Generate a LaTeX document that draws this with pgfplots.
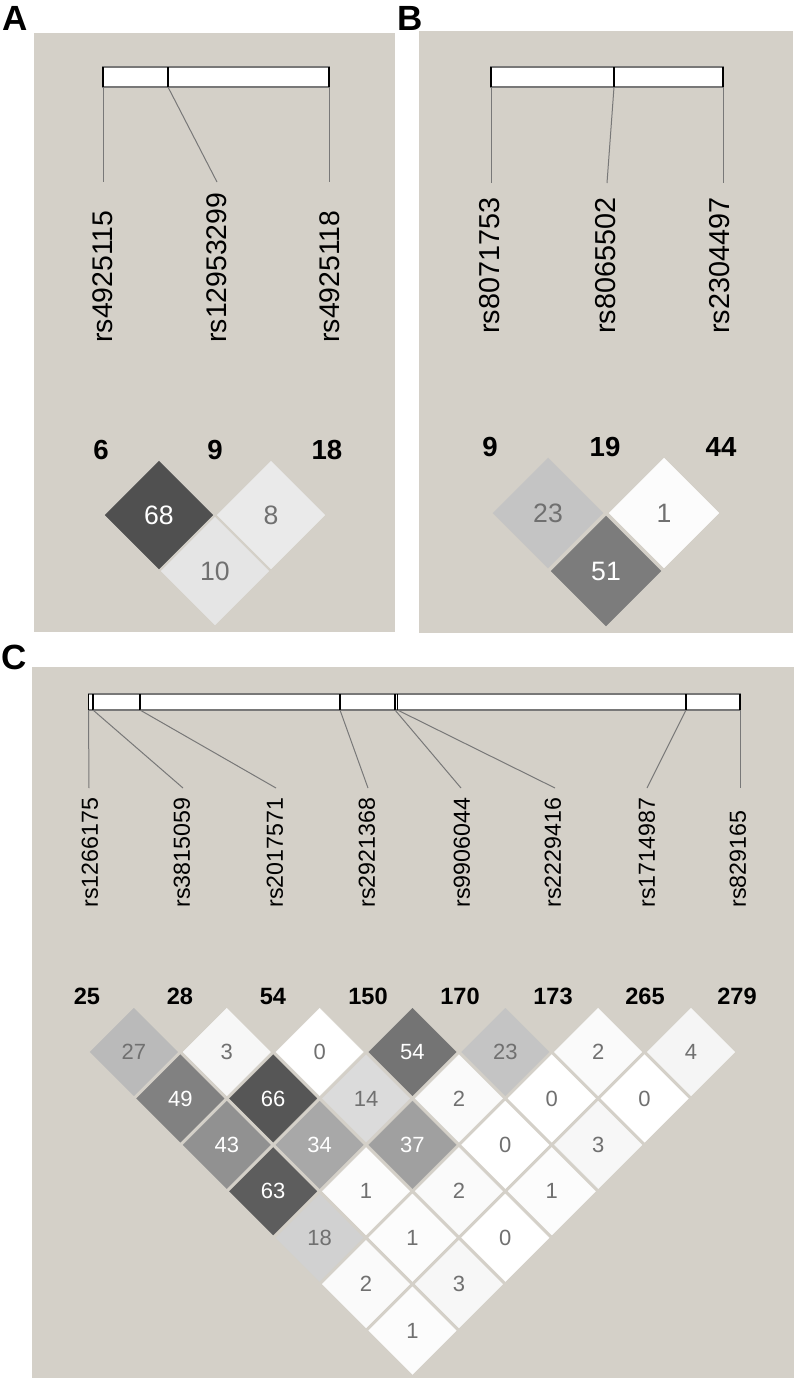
\documentclass[border=0pt]{standalone}
\usepackage{fontspec}
\setmainfont{Liberation Sans}
\usepackage{pgfplots}
\usepackage{pgfplotstable}
\pgfplotsset{compat=1.18}
\definecolor{bg}{RGB}{212,208,200}
\definecolor{ln}{RGB}{120,120,120}
\definecolor{tg}{RGB}{112,112,112}

% LD values (r^2 x 100), diamond centres in picture pixel units
\pgfplotstableread{
x y v
159 515 68
271 515 8
215 571 10
}\ldA
\pgfplotstableread{
x y v
548 513 23
664 513 1
606 571 51
}\ldB
\pgfplotstableread{
x y v
133.93 1052 27
226.78 1052 3
319.63 1052 0
412.48 1052 54
505.33 1052 23
598.18 1052 2
691.03 1052 4
180.35 1098.43 49
273.2 1098.43 66
366.05 1098.43 14
458.9 1098.43 2
551.75 1098.43 0
644.6 1098.43 0
226.78 1144.85 43
319.63 1144.85 34
412.48 1144.85 37
505.33 1144.85 0
598.18 1144.85 3
273.2 1191.28 63
366.05 1191.28 1
458.9 1191.28 2
551.75 1191.28 1
319.63 1237.7 18
412.48 1237.7 1
505.33 1237.7 0
366.05 1284.13 2
458.9 1284.13 3
412.48 1330.55 1
}\ldC

\pgfplotsset{
  ldmarks/.style={scatter, only marks, mark=square*, mark size=#1,
    mark options={rotate=45, line width=0.1pt},
    scatter/use mapped color={draw=mapped color, fill=mapped color},
    point meta=\thisrow{v}},
  ldtext/.style 2 args={draw=none, nodes near coords, point meta=explicit symbolic,
    nodes near coords align=center,
    every node near coord/.append style={anchor=center, inner sep=0pt, font=#1, text=#2}},
}
\newcommand{\fA}{\fontsize{13.3}{15}\selectfont}
\newcommand{\fC}{\fontsize{11}{13}\selectfont}

\begin{document}
\begin{tikzpicture}
\begin{axis}[name=ax, scale only axis, width=398.5pt, height=691pt,
  xmin=0, xmax=797, ymin=0, ymax=1382, y dir=reverse, hide axis, clip=false,
  colormap={wb}{color=(white) color=(black)},
  point meta min=0, point meta max=100]

% panel backgrounds
\addplot[draw=none, fill=bg] coordinates {(34,33) (395,33) (395,632) (34,632)} -- cycle;
\addplot[draw=none, fill=bg] coordinates {(419,31) (793,31) (793,633) (419,633)} -- cycle;
\addplot[draw=none, fill=bg] coordinates {(32,667) (794,667) (794,1378) (32,1378)} -- cycle;

% ---------- Panel A ----------
\addplot[fill=white, draw=ln, line width=0.6pt] coordinates {(103,67) (329,67) (329,87) (103,87)} -- cycle;
\addplot[black, line width=1pt] coordinates {(103,67) (103,87)};
\addplot[black, line width=1pt] coordinates {(168,67) (168,87)};
\addplot[black, line width=1pt] coordinates {(329,67) (329,87)};
\addplot[ln, line width=0.5pt] coordinates {(103,87) (103,182)};
\addplot[ln, line width=0.5pt] coordinates {(168,87) (217,182)};
\addplot[ln, line width=0.5pt] coordinates {(329,87) (329,182)};
\node[rotate=90, anchor=west, inner sep=0pt, font=\fontsize{14.2}{16}\selectfont] at (axis cs:103,343) {rs4925115};
\node[rotate=90, anchor=west, inner sep=0pt, font=\fontsize{14.2}{16}\selectfont] at (axis cs:217,343) {rs12953299};
\node[rotate=90, anchor=west, inner sep=0pt, font=\fontsize{14.2}{16}\selectfont] at (axis cs:330,343) {rs4925118};
\node[inner sep=0pt, font=\fontsize{13.8}{16}\selectfont\bfseries] at (axis cs:101,450) {6};
\node[inner sep=0pt, font=\fontsize{13.8}{16}\selectfont\bfseries] at (axis cs:215,450) {9};
\node[inner sep=0pt, font=\fontsize{13.8}{16}\selectfont\bfseries] at (axis cs:327,450) {18};
\addplot[ldmarks=19.09pt] table[x=x, y=y] \ldA;
\addplot[ldtext={\fA}{white}, restrict expr to domain={\thisrow{v}}{30:1000}] table[x=x, y=y, meta=v] \ldA;
\addplot[ldtext={\fA}{tg}, restrict expr to domain={\thisrow{v}}{-1:29.5}] table[x=x, y=y, meta=v] \ldA;

% ---------- Panel B ----------
\addplot[fill=white, draw=ln, line width=0.6pt] coordinates {(491,67) (723,67) (723,87) (491,87)} -- cycle;
\addplot[black, line width=1pt] coordinates {(491,67) (491,87)};
\addplot[black, line width=1pt] coordinates {(614,67) (614,87)};
\addplot[black, line width=1pt] coordinates {(723,67) (723,87)};
\addplot[ln, line width=0.5pt] coordinates {(491,87) (491,183)};
\addplot[ln, line width=0.5pt] coordinates {(614,87) (607,183)};
\addplot[ln, line width=0.5pt] coordinates {(723,87) (723,183)};
\node[rotate=90, anchor=west, inner sep=0pt, font=\fontsize{14.4}{16}\selectfont] at (axis cs:490,334) {rs8071753};
\node[rotate=90, anchor=west, inner sep=0pt, font=\fontsize{14.4}{16}\selectfont] at (axis cs:606,334) {rs8065502};
\node[rotate=90, anchor=west, inner sep=0pt, font=\fontsize{14.4}{16}\selectfont] at (axis cs:720,334) {rs2304497};
\node[inner sep=0pt, font=\fontsize{13.8}{16}\selectfont\bfseries] at (axis cs:490,447) {9};
\node[inner sep=0pt, font=\fontsize{13.8}{16}\selectfont\bfseries] at (axis cs:605,447) {19};
\node[inner sep=0pt, font=\fontsize{13.8}{16}\selectfont\bfseries] at (axis cs:721,447) {44};
\addplot[ldmarks=19.45pt] table[x=x, y=y] \ldB;
\addplot[ldtext={\fA}{white}, restrict expr to domain={\thisrow{v}}{30:1000}] table[x=x, y=y, meta=v] \ldB;
\addplot[ldtext={\fA}{tg}, restrict expr to domain={\thisrow{v}}{-1:29.5}] table[x=x, y=y, meta=v] \ldB;

% ---------- Panel C ----------
\addplot[fill=white, draw=ln, line width=0.6pt] coordinates {(88.5,694) (740,694) (740,710) (88.5,710)} -- cycle;
\addplot[black, line width=0.9pt] coordinates {(88.5,694) (88.5,710)};
\addplot[black, line width=0.9pt] coordinates {(93,694) (93,710)};
\addplot[black, line width=0.9pt] coordinates {(140,694) (140,710)};
\addplot[black, line width=0.9pt] coordinates {(340,694) (340,710)};
\addplot[black, line width=0.9pt] coordinates {(395,694) (395,710)};
\addplot[black, line width=0.9pt] coordinates {(397.5,694) (397.5,710)};
\addplot[black, line width=0.9pt] coordinates {(686,694) (686,710)};
\addplot[black, line width=0.9pt] coordinates {(740,694) (740,710)};
\addplot[ln, line width=0.5pt] coordinates {(88.5,710) (89,788)};
\addplot[ln, line width=0.5pt] coordinates {(93,710) (183,788)};
\addplot[ln, line width=0.5pt] coordinates {(140,710) (276,788)};
\addplot[ln, line width=0.5pt] coordinates {(340,710) (368,788)};
\addplot[ln, line width=0.5pt] coordinates {(395,710) (461,788)};
\addplot[ln, line width=0.5pt] coordinates {(397.5,710) (555,788)};
\addplot[ln, line width=0.5pt] coordinates {(686,710) (647,788)};
\addplot[ln, line width=0.5pt] coordinates {(740,710) (740,788)};
\node[rotate=90, anchor=west, inner sep=0pt, font=\fontsize{11.6}{13}\selectfont] at (axis cs:90,908) {rs1266175};
\node[rotate=90, anchor=west, inner sep=0pt, font=\fontsize{11.6}{13}\selectfont] at (axis cs:182,908) {rs3815059};
\node[rotate=90, anchor=west, inner sep=0pt, font=\fontsize{11.6}{13}\selectfont] at (axis cs:275,908) {rs2017571};
\node[rotate=90, anchor=west, inner sep=0pt, font=\fontsize{11.6}{13}\selectfont] at (axis cs:367,908) {rs2921368};
\node[rotate=90, anchor=west, inner sep=0pt, font=\fontsize{11.6}{13}\selectfont] at (axis cs:462,908) {rs9906044};
\node[rotate=90, anchor=west, inner sep=0pt, font=\fontsize{11.6}{13}\selectfont] at (axis cs:553,908) {rs2229416};
\node[rotate=90, anchor=west, inner sep=0pt, font=\fontsize{11.6}{13}\selectfont] at (axis cs:647,908) {rs1714987};
\node[rotate=90, anchor=west, inner sep=0pt, font=\fontsize{11.6}{13}\selectfont] at (axis cs:738,908) {rs829165};
\node[inner sep=0pt, font=\fontsize{11.8}{13}\selectfont\bfseries] at (axis cs:87,996.5) {25};
\node[inner sep=0pt, font=\fontsize{11.8}{13}\selectfont\bfseries] at (axis cs:180,996.5) {28};
\node[inner sep=0pt, font=\fontsize{11.8}{13}\selectfont\bfseries] at (axis cs:273,996.5) {54};
\node[inner sep=0pt, font=\fontsize{11.8}{13}\selectfont\bfseries] at (axis cs:368,996.5) {150};
\node[inner sep=0pt, font=\fontsize{11.8}{13}\selectfont\bfseries] at (axis cs:460,996.5) {170};
\node[inner sep=0pt, font=\fontsize{11.8}{13}\selectfont\bfseries] at (axis cs:553,996.5) {173};
\node[inner sep=0pt, font=\fontsize{11.8}{13}\selectfont\bfseries] at (axis cs:645,996.5) {265};
\node[inner sep=0pt, font=\fontsize{11.8}{13}\selectfont\bfseries] at (axis cs:737,996.5) {279};
\addplot[ldmarks=15.49pt] table[x=x, y=y] \ldC;
\addplot[ldtext={\fC}{white}, restrict expr to domain={\thisrow{v}}{30:1000}] table[x=x, y=y, meta=v] \ldC;
\addplot[ldtext={\fC}{tg}, restrict expr to domain={\thisrow{v}}{-1:29.5}] table[x=x, y=y, meta=v] \ldC;

% panel letters
\node[inner sep=0pt, font=\fontsize{17.5}{19}\selectfont\bfseries] at (axis cs:15,18) {A};
\node[inner sep=0pt, font=\fontsize{17.5}{19}\selectfont\bfseries] at (axis cs:410,18) {B};
\node[inner sep=0pt, font=\fontsize{17.5}{19}\selectfont\bfseries] at (axis cs:14.5,657) {C};
\end{axis}
\pgfresetboundingbox
\path (ax.south west) rectangle (ax.north east);
\end{tikzpicture}
\end{document}
